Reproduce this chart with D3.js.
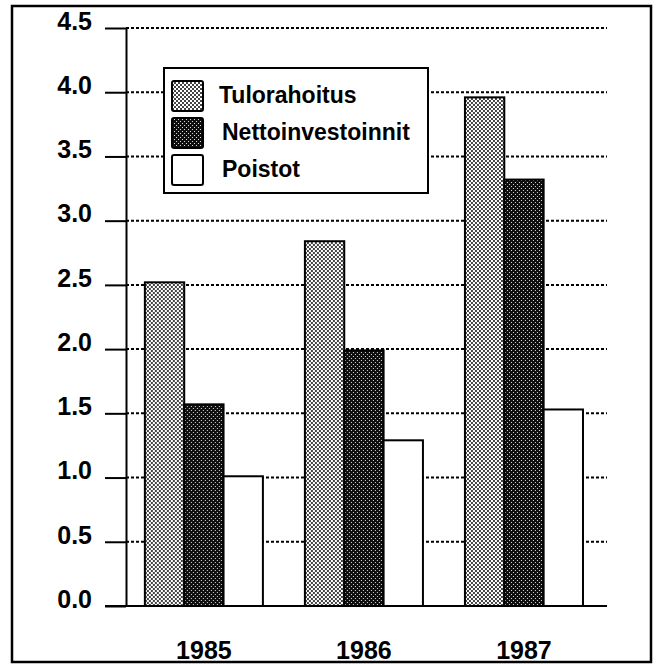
<!DOCTYPE html>
<html>
<head>
<meta charset="utf-8">
<script src="https://cdn.jsdelivr.net/npm/d3@7"></script>
<style>
  body { margin: 0; background: #fff; }
  text { font-family: "Liberation Sans", Arial, Helvetica, sans-serif; font-weight: bold; fill: #000; }
</style>
</head>
<body>
<div id="chart"></div>
<script>
// Chart data
var years = ['1985', '1986', '1987'];
var series = ['Tulorahoitus', 'Nettoinvestoinnit', 'Poistot'];
var tulorahoitus = [2.52, 2.84, 3.96];
var nettoinvestoinnit = [1.57, 1.99, 3.32];
var poistot = [1.01, 1.29, 1.53];
var yTicks = [0, 0.5, 1.0, 1.5, 2.0, 2.5, 3.0, 3.5, 4.0, 4.5];

var values = [tulorahoitus, nettoinvestoinnit, poistot];
var data = years.map(function(yr, i) {
  return { year: yr, vals: series.map(function(s, j) { return { key: s, value: values[j][i] }; }) };
});

// Layout (plot edges in pixels)
var W = 658, H = 664,
    plotLeft = 126, plotRight = 607,
    plotTop = 28, plotBottom = 606;

var svg = d3.select('#chart')
            .append('svg')
            .attr('width', W)
            .attr('height', H);

// Fill patterns
var defs = svg.append('defs');
var light = defs.append('pattern')
    .attr('id', 'pat-light')
    .attr('patternUnits', 'userSpaceOnUse')
    .attr('width', 4).attr('height', 4);
light.append('rect').attr('width', 4).attr('height', 4).attr('fill', '#fff');
light.append('rect').attr('x', 0).attr('y', 0).attr('width', 2).attr('height', 2).attr('fill', '#444');
light.append('rect').attr('x', 2).attr('y', 2).attr('width', 2).attr('height', 2).attr('fill', '#444');

var dark = defs.append('pattern')
    .attr('id', 'pat-dark')
    .attr('patternUnits', 'userSpaceOnUse')
    .attr('width', 4).attr('height', 4);
dark.append('rect').attr('width', 4).attr('height', 4).attr('fill', '#0e0e0e');
dark.append('rect').attr('x', 0).attr('y', 0).attr('width', 1).attr('height', 1).attr('fill', '#d8d8d8');
dark.append('rect').attr('x', 2).attr('y', 2).attr('width', 1).attr('height', 1).attr('fill', '#d8d8d8');

var fills = {
  'Tulorahoitus': 'url(#pat-light)',
  'Nettoinvestoinnit': 'url(#pat-dark)',
  'Poistot': '#fff'
};

// Outer frame
svg.append('rect')
   .attr('x', 12).attr('y', 6)
   .attr('width', 639).attr('height', 656)
   .attr('fill', 'none')
   .attr('stroke', '#000')
   .attr('stroke-width', 2.5);

// Scales
var x0 = d3.scaleBand()
           .domain(years)
           .range([plotLeft, plotRight])
           .paddingInner(0.2625)
           .paddingOuter(0.134)
           .align(0.44);

var x1 = d3.scaleBand()
           .domain(series)
           .range([0, x0.bandwidth()]);

var y = d3.scaleLinear()
          .domain([0, 4.5])
          .range([plotBottom, plotTop]);

// Dotted grid lines
svg.append('g')
   .selectAll('line')
   .data(yTicks.filter(function(d) { return d > 0; }))
   .enter()
   .append('line')
   .attr('x1', plotLeft).attr('x2', plotRight)
   .attr('y1', function(d) { return y(d); })
   .attr('y2', function(d) { return y(d); })
   .attr('stroke', '#000')
   .attr('stroke-width', 2)
   .attr('stroke-dasharray', '3,2');

// Y axis
var y_axis = d3.axisLeft(y)
               .tickValues(yTicks)
               .tickFormat(d3.format('.1f'))
               .tickSizeInner(21)
               .tickSizeOuter(0)
               .tickPadding(13);

var gy = svg.append('g')
            .attr('transform', 'translate(' + plotLeft + ',0)')
            .call(y_axis);
gy.select('.domain').attr('stroke-width', 2);
gy.selectAll('.tick line').attr('stroke-width', 2);
gy.selectAll('.tick text')
  .attr('dy', '0.05em')
  .style('font-size', '25px');

// Bars
var groups = svg.selectAll('.year')
                .data(data)
                .enter()
                .append('g')
                .attr('class', 'year')
                .attr('transform', function(d) { return 'translate(' + x0(d.year) + ',0)'; });

groups.selectAll('rect')
      .data(function(d) { return d.vals; })
      .enter()
      .append('rect')
      .attr('x', function(d) { return x1(d.key); })
      .attr('y', function(d) { return y(d.value); })
      .attr('width', x1.bandwidth())
      .attr('height', function(d) { return y(0) - y(d.value); })
      .attr('fill', function(d) { return fills[d.key]; })
      .attr('stroke', '#000')
      .attr('stroke-width', 2);

// X axis line and year labels
svg.append('line')
   .attr('x1', plotLeft - 21).attr('x2', plotRight)
   .attr('y1', plotBottom).attr('y2', plotBottom)
   .attr('stroke', '#000')
   .attr('stroke-width', 2.2);

var x_axis = d3.axisBottom(x0)
               .tickSize(0)
               .tickPadding(0);

var gx = svg.append('g')
            .attr('transform', 'translate(0,' + plotBottom + ')')
            .call(x_axis);
gx.select('.domain').remove();
gx.selectAll('.tick text')
  .attr('y', 53)
  .attr('dy', null)
  .style('font-size', '25px');

// Legend
var legend = svg.append('g');
legend.append('rect')
      .attr('x', 164).attr('y', 68)
      .attr('width', 264).attr('height', 125)
      .attr('fill', '#fff')
      .attr('stroke', '#000')
      .attr('stroke-width', 2);

var items = legend.selectAll('.item')
                  .data(series)
                  .enter()
                  .append('g')
                  .attr('class', 'item')
                  .attr('transform', function(d, i) { return 'translate(0,' + (96 + i * 37) + ')'; });

items.append('rect')
     .attr('x', 172).attr('y', -15)
     .attr('width', 31).attr('height', 30)
     .attr('rx', 2)
     .attr('fill', function(d) { return fills[d]; })
     .attr('stroke', '#000')
     .attr('stroke-width', 2);

items.append('text')
     .attr('x', function(d, i) { return i === 0 ? 219 : 222; })
     .attr('y', 7)
     .style('font-size', '23px')
     .text(function(d) { return d; });
</script>
</body>
</html>
